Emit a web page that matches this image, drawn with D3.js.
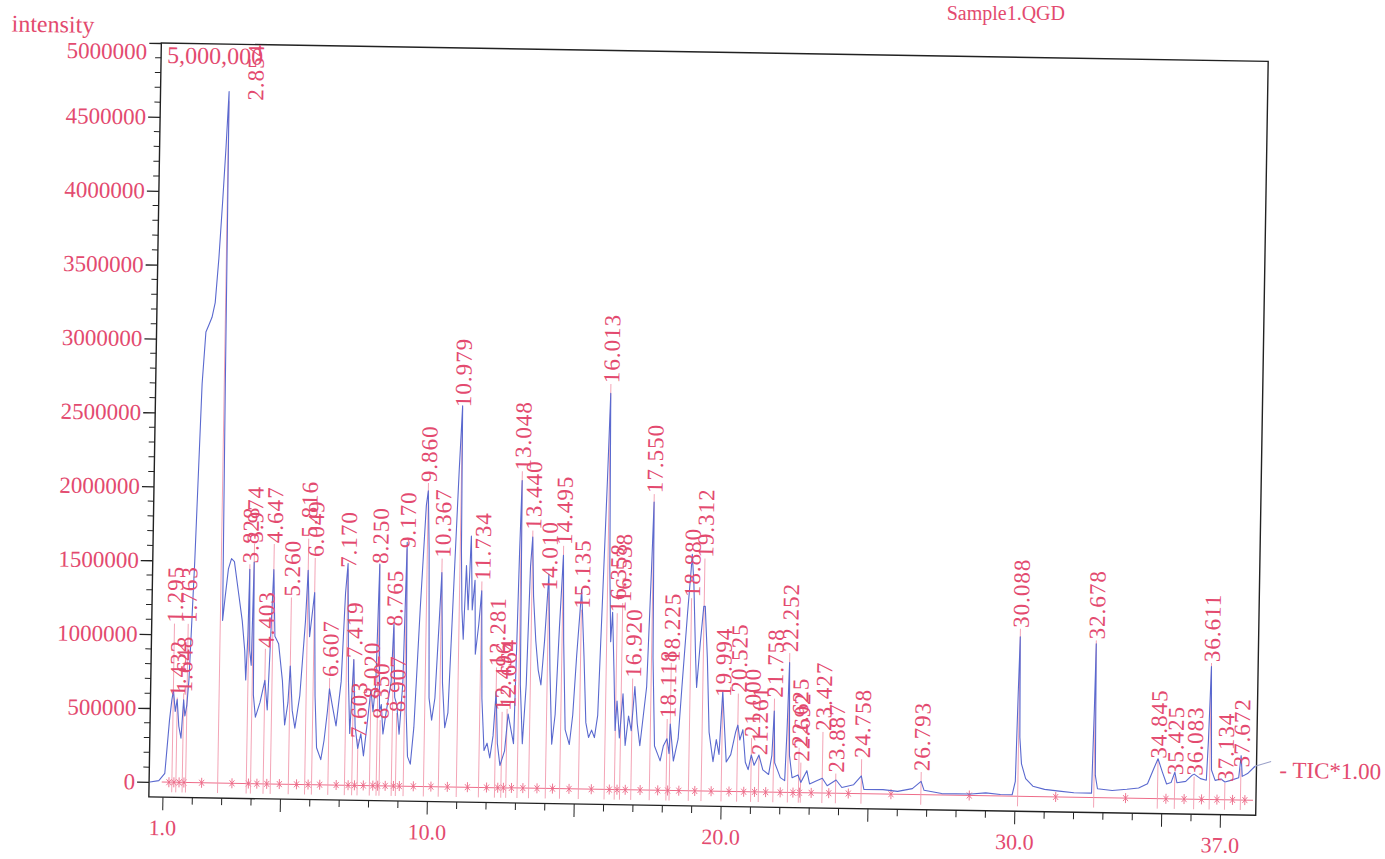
<!DOCTYPE html>
<html>
<head>
<meta charset="utf-8">
<script src="https://cdn.jsdelivr.net/npm/d3@7/dist/d3.min.js"></script>
<style>
body { margin: 0; background: #fff; }
text { font-family: "Liberation Serif", "DejaVu Serif", serif; }
</style>
</head>
<body>
<script>
// TIC trace, [retention time (min), intensity]
var tracePoints = [
	[0.55, 0], [0.85, 10000], [1.05, 60000], [1.18, 420000], [1.25, 560000], [1.30, 620000],
	[1.37, 480000], [1.43, 560000], [1.50, 380000], [1.58, 300000], [1.65, 560000], [1.70, 450000],
	[1.76, 520000], [1.82, 700000], [1.95, 1500000], [2.10, 2700000], [2.20, 3050000], [2.30, 3100000],
	[2.40, 3150000], [2.50, 3250000], [2.60, 3550000], [2.70, 3950000], [2.78, 4300000], [2.854, 4680000],
	[2.87, 3900000], [2.89, 2700000], [2.93, 1100000], [3.00, 1250000], [3.10, 1450000], [3.20, 1520000],
	[3.30, 1500000], [3.45, 1300000], [3.60, 1100000], [3.70, 900000], [3.75, 700000], [3.80, 1000000],
	[3.828, 1450000], [3.87, 900000], [3.93, 800000], [3.974, 1500000], [4.02, 600000], [4.10, 450000],
	[4.25, 550000], [4.403, 700000], [4.50, 500000], [4.647, 1450000], [4.72, 1000000], [4.85, 950000],
	[5.00, 700000], [5.10, 400000], [5.20, 550000], [5.26, 800000], [5.35, 500000], [5.45, 380000],
	[5.60, 600000], [5.75, 1100000], [5.816, 1450000], [5.90, 1000000], [6.00, 1200000], [6.049, 1300000],
	[6.12, 600000], [6.20, 250000], [6.35, 170000], [6.45, 300000], [6.55, 500000], [6.607, 650000],
	[6.70, 550000], [6.85, 400000], [7.00, 700000], [7.10, 1300000], [7.17, 1500000], [7.25, 700000],
	[7.32, 350000], [7.419, 850000], [7.50, 400000], [7.60, 250000], [7.70, 350000], [7.80, 200000],
	[7.90, 400000], [8.02, 650000], [8.10, 500000], [8.18, 700000], [8.25, 1500000], [8.32, 500000],
	[8.38, 550000], [8.45, 350000], [8.55, 500000], [8.70, 700000], [8.765, 1100000], [8.83, 600000],
	[8.907, 550000], [9.00, 350000], [9.10, 700000], [9.17, 1650000], [9.23, 500000], [9.30, 200000],
	[9.40, 150000], [9.50, 400000], [9.65, 1200000], [9.80, 1900000], [9.86, 2000000], [9.92, 1600000],
	[10.00, 600000], [10.10, 450000], [10.20, 600000], [10.30, 1100000], [10.367, 1450000], [10.45, 700000],
	[10.55, 400000], [10.65, 500000], [10.80, 1500000], [10.90, 2150000], [10.979, 2580000], [11.02, 1600000],
	[11.07, 1200000], [11.13, 1000000], [11.20, 1500000], [11.28, 1200000], [11.35, 1700000], [11.42, 1200000],
	[11.50, 1400000], [11.55, 900000], [11.65, 1100000], [11.734, 1330000], [11.80, 600000], [11.90, 250000],
	[12.00, 300000], [12.10, 200000], [12.20, 350000], [12.281, 650000], [12.35, 300000], [12.45, 150000],
	[12.60, 250000], [12.70, 500000], [12.80, 400000], [12.90, 300000], [12.95, 900000], [13.00, 1600000],
	[13.048, 2080000], [13.10, 700000], [13.20, 300000], [13.30, 700000], [13.38, 1500000], [13.44, 1700000],
	[13.50, 1300000], [13.60, 1000000], [13.70, 800000], [13.80, 700000], [13.90, 1000000], [14.01, 1450000],
	[14.10, 800000], [14.20, 300000], [14.30, 500000], [14.40, 1100000], [14.495, 1580000], [14.55, 1000000],
	[14.65, 400000], [14.80, 300000], [14.90, 500000], [15.00, 900000], [15.135, 1350000], [15.25, 900000],
	[15.35, 450000], [15.45, 350000], [15.55, 400000], [15.65, 350000], [15.75, 500000], [15.85, 1300000],
	[15.95, 2100000], [16.013, 2680000], [16.08, 1500000], [16.15, 1000000], [16.20, 1200000], [16.28, 800000],
	[16.35, 400000], [16.40, 600000], [16.50, 350000], [16.60, 650000], [16.70, 300000], [16.80, 500000],
	[16.90, 400000], [17.00, 700000], [17.10, 450000], [17.20, 300000], [17.40, 700000], [17.50, 1500000],
	[17.55, 1950000], [17.60, 900000], [17.70, 300000], [17.80, 250000], [17.90, 200000], [18.00, 300000],
	[18.12, 350000], [18.20, 250000], [18.225, 450000], [18.35, 200000], [18.50, 350000], [18.60, 700000],
	[18.75, 1200000], [18.85, 1500000], [18.88, 1600000], [18.95, 1400000], [19.05, 900000], [19.10, 700000],
	[19.20, 1000000], [19.30, 1250000], [19.35, 1250000], [19.45, 900000], [19.55, 400000], [19.70, 200000],
	[19.80, 350000], [19.90, 250000], [19.994, 680000], [20.05, 500000], [20.15, 200000], [20.30, 250000],
	[20.45, 400000], [20.525, 450000], [20.60, 350000], [20.70, 420000], [20.80, 200000], [20.90, 150000],
	[21.00, 250000], [21.10, 180000], [21.26, 250000], [21.40, 150000], [21.60, 120000], [21.70, 250000],
	[21.758, 550000], [21.80, 200000], [21.90, 150000], [22.00, 100000], [22.15, 80000], [22.20, 400000],
	[22.252, 880000], [22.30, 250000], [22.40, 100000], [22.60, 120000], [22.70, 70000], [22.90, 150000],
	[23.00, 60000], [23.20, 80000], [23.43, 100000], [23.60, 50000], [23.90, 90000], [24.10, 40000],
	[24.50, 60000], [24.758, 120000], [24.85, 30000], [25.50, 30000], [26.00, 20000], [26.50, 40000],
	[26.793, 90000], [26.90, 30000], [27.50, 10000], [28.50, 10000], [29.00, 20000], [29.50, 10000],
	[29.90, 10000], [30.00, 100000], [30.05, 700000], [30.088, 1080000], [30.13, 400000], [30.20, 220000],
	[30.35, 120000], [30.60, 70000], [31.00, 50000], [31.50, 40000], [32.00, 30000], [32.60, 30000],
	[32.65, 600000], [32.678, 1040000], [32.72, 150000], [32.80, 60000], [33.30, 50000], [33.80, 60000],
	[34.20, 70000], [34.50, 100000], [34.70, 200000], [34.845, 270000], [35.00, 180000], [35.15, 100000],
	[35.30, 110000], [35.425, 180000], [35.50, 110000], [35.80, 120000], [36.00, 160000], [36.083, 170000],
	[36.30, 140000], [36.50, 130000], [36.55, 400000], [36.611, 900000], [36.67, 200000], [36.80, 130000],
	[37.00, 140000], [37.134, 120000], [37.30, 130000], [37.60, 150000], [37.672, 300000], [37.72, 160000],
	[37.90, 180000], [38.15, 230000]
];

// integrated peaks: retention time and the level where its label starts
var peakTimes = [1.295, 1.432, 1.648, 1.763, 2.854, 3.828, 3.974, 4.403, 4.647, 5.260,
	5.816, 6.049, 6.607, 7.170, 7.419, 7.603, 8.020, 8.250, 8.350, 8.765,
	8.907, 9.170, 9.860, 10.367, 10.979, 11.734, 12.281, 12.496, 12.664, 13.048,
	13.440, 14.010, 14.495, 15.135, 16.013, 16.358, 16.538, 16.920, 17.550, 18.118,
	18.225, 18.880, 19.312, 19.994, 20.525, 21.000, 21.261, 21.758, 22.252, 22.625,
	22.692, 23.427, 23.887, 24.758, 26.793, 30.088, 32.678, 34.845, 35.425, 36.083,
	36.611, 37.134, 37.672];
var peakLabelLevels = [1060000, 560000, 590000, 1060000, 4600000, 1470000, 1610000, 900000, 1610000, 1250000,
	1650000, 1520000, 710000, 1450000, 840000, 300000, 570000, 1480000, 430000, 1060000,
	480000, 1590000, 2040000, 1530000, 2550000, 1380000, 800000, 500000, 520000, 2130000,
	1730000, 1320000, 1630000, 1200000, 2730000, 1180000, 1250000, 740000, 1990000, 470000,
	850000, 1290000, 1560000, 620000, 650000, 350000, 230000, 620000, 930000, 290000,
	190000, 400000, 120000, 220000, 140000, 1120000, 1050000, 250000, 140000, 140000,
	910000, 100000, 200000];

var yTickValues = [0, 500000, 1000000, 1500000, 2000000, 2500000, 3000000, 3500000, 4000000, 4500000, 5000000];
var xTickLabels = [1.0, 10.0, 20.0, 30.0, 37.0];

var W = 1385, H = 859;
var pink = "#e34a6f";
var plot = {left: 155, right: 1262, top: 52, bottom: 806};

var svg = d3.select("body").append("svg")
	.attr("width", W)
	.attr("height", H);

// file name at the top of the scan
svg.append("text")
	.attr("x", 1065).attr("y", 20)
	.attr("text-anchor", "end")
	.attr("font-size", 20)
	.attr("fill", pink)
	.text("Sample1.QGD");

// the scan is slightly skewed
var g = svg.append("g")
	.attr("transform", "rotate(0.95,700,430)");

var x = d3.scaleLinear().domain([0.52, 38.2]).range([plot.left, plot.right]);
var y = d3.scaleLinear().domain([0, 5000000]).range([791, plot.top]);

// frame
g.append("rect")
	.attr("x", plot.left).attr("y", plot.top)
	.attr("width", plot.right - plot.left)
	.attr("height", plot.bottom - plot.top)
	.attr("fill", "none")
	.attr("stroke", "#222")
	.attr("stroke-width", 1.4);

// y axis
var yAxis = d3.axisLeft(y)
	.tickValues(yTickValues)
	.tickSize(12)
	.tickPadding(2)
	.tickFormat(d3.format("d"));
var yG = g.append("g")
	.attr("transform", "translate(" + plot.left + ",0)")
	.call(yAxis);
yG.select(".domain").remove();
yG.selectAll("line").attr("stroke", "#222").attr("stroke-width", 1.3);
yG.selectAll("text")
	.attr("font-size", 23)
	.attr("fill", pink)
	.attr("font-family", "Liberation Serif")
	.attr("dy", function(d) { return d === 5000000 ? "0.7em" : "0.32em"; });

var yMinor = d3.range(100000, 5000000, 100000).filter(function(d) { return d % 500000 !== 0; });
g.append("g").selectAll("line")
	.data(yMinor)
	.enter().append("line")
	.attr("x1", plot.left - 6).attr("x2", plot.left)
	.attr("y1", function(d) { return y(d); })
	.attr("y2", function(d) { return y(d); })
	.attr("stroke", "#222");

// x axis ticks, one per minute, longer every 5
var xTicks = d3.range(1, 38, 1);
g.append("g").selectAll("line")
	.data(xTicks)
	.enter().append("line")
	.attr("x1", function(d) { return x(d); })
	.attr("x2", function(d) { return x(d); })
	.attr("y1", plot.bottom)
	.attr("y2", function(d) {
		return plot.bottom + ((d % 5 === 0 || xTickLabels.indexOf(d) >= 0) ? 13 : 7);
	})
	.attr("stroke", "#222");
g.append("g").selectAll("text")
	.data(xTickLabels)
	.enter().append("text")
	.attr("x", function(d) { return x(d); })
	.attr("y", plot.bottom + 38)
	.attr("text-anchor", "middle")
	.attr("font-size", 22)
	.attr("fill", pink)
	.text(function(d) { return d3.format(".1f")(d); });

// labels
g.append("text")
	.attr("x", 5).attr("y", 43)
	.attr("font-size", 24)
	.attr("fill", pink)
	.text("intensity");
g.append("text")
	.attr("x", plot.left + 6).attr("y", plot.top + 20)
	.attr("font-size", 24)
	.attr("fill", pink)
	.text("5,000,000");

// red zero line with integration markers
var y0 = y(0);
g.append("line")
	.attr("x1", x(0.95)).attr("x2", x(38.1))
	.attr("y1", y0).attr("y2", y0)
	.attr("stroke", "#ee6d8a")
	.attr("stroke-width", 1);

var marks = [peakTimes[0] - 0.1];
for (var i = 0; i < peakTimes.length - 1; i++) {
	marks.push((peakTimes[i] + peakTimes[i + 1]) / 2);
}
marks.push(peakTimes[peakTimes.length - 1] + 0.15);
g.append("g").selectAll("path")
	.data(marks)
	.enter().append("path")
	.attr("transform", function(d) { return "translate(" + x(d) + "," + y0 + ")"; })
	.attr("d", "M-2.5,-3L2.5,3M-2.5,3L2.5,-3M0,-5L0,5")
	.attr("stroke", "#ec6a88")
	.attr("stroke-width", 0.9)
	.attr("fill", "none");

// peak lines
var labelH = 60;
g.append("g").selectAll("line")
	.data(peakTimes)
	.enter().append("line")
	.attr("x1", function(d) { return x(d); })
	.attr("x2", function(d) { return x(d); })
	.attr("y1", y0 + 10)
	.attr("y2", function(d, i) { return y(peakLabelLevels[i]) - 2; })
	.attr("stroke", "#f29aae")
	.attr("stroke-width", 0.9);

// TIC trace
var line = d3.line()
	.x(function(d) { return x(d[0]); })
	.y(function(d) { return y(d[1]); });
g.append("path")
	.datum(tracePoints)
	.attr("d", line)
	.attr("fill", "none")
	.attr("stroke", "#5a69cf")
	.attr("stroke-width", 1.1)
	.attr("stroke-linejoin", "round");

// peak labels, rotated; a label with no room above the peak goes beside it
g.append("g").selectAll("text")
	.data(peakTimes)
	.enter().append("text")
	.attr("transform", function(d, i) {
		var px = x(d), py = y(peakLabelLevels[i]) - 3;
		if (py - labelH < plot.top + 15) px += 26;
		return "translate(" + px + "," + py + ") rotate(-90)";
	})
	.attr("dy", "0.36em")
	.attr("font-size", 23)
	.attr("letter-spacing", 1)
	.attr("fill", pink)
	.text(function(d) { return d3.format(".3f")(d); });

// trace end marker
var last = tracePoints[tracePoints.length - 1];
g.append("line")
	.attr("x1", x(last[0])).attr("y1", y(last[1]))
	.attr("x2", x(last[0]) + 16).attr("y2", y(last[1]) - 5)
	.attr("stroke", "#9aa0c8");
g.append("text")
	.attr("x", 1285).attr("y", 768)
	.attr("font-size", 23)
	.attr("fill", pink)
	.text("- TIC*1.00");
</script>
</body>
</html>
